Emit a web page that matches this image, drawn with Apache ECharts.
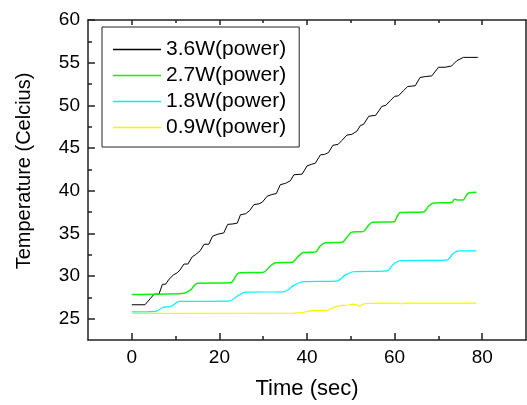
<!DOCTYPE html>
<html>
<head>
<meta charset="utf-8">
<script src="https://cdn.jsdelivr.net/npm/echarts@6/dist/echarts.min.js"></script>
<style>
html,body{margin:0;padding:0;background:#fff;}
#chart{width:527px;height:405px;}
</style>
</head>
<body>
<div id="chart"></div>
<script>
// ---- data ----
const seriesNames = ['3.6W(power)', '2.7W(power)', '1.8W(power)', '0.9W(power)'];

const time36 = [0, 3.0, 4.3, 5.1, 6.2, 7.0, 7.7, 8.5, 9.5, 10.4, 11.0, 11.9, 12.8, 13.8, 14.6, 15.6, 16.5, 17.6, 18.4, 19.5, 21.0, 21.9, 23.1, 24.1, 24.8, 26.0, 26.9, 27.9, 29.0, 29.8, 30.9, 32.0, 33.0, 33.9, 35.1, 36.2, 37.0, 38.9, 40.0, 41.1, 41.9, 43.05, 44.0, 44.9, 45.9, 47.1, 48.0, 49.1, 50.25, 51.4, 52.2, 52.9, 54.1, 55.7, 57.1, 58.0, 59.0, 60.0, 60.9, 62.0, 63.0, 64.7, 65.8, 67.0, 68.5, 70.0, 71.5, 73.0, 74.2, 75.7, 79.0];
const temp36 = [26.63, 26.63, 27.4, 27.87, 27.87, 29.03, 29.03, 29.62, 30.12, 30.39, 30.70, 31.40, 31.40, 32.25, 32.52, 32.95, 33.72, 33.72, 34.65, 34.88, 35.05, 36.05, 36.1, 36.2, 37.17, 37.3, 37.67, 38.37, 38.45, 38.65, 39.35, 39.55, 39.66, 40.7, 40.86, 41.16, 41.86, 41.94, 42.9, 43.1, 43.22, 44.19, 44.25, 44.46, 45.31, 45.43, 45.9, 46.51, 46.6, 46.98, 47.64, 47.76, 48.72, 48.84, 49.88, 50.0, 50.55, 51.05, 51.12, 51.71, 52.21, 52.29, 53.26, 53.37, 53.45, 54.46, 54.46, 54.61, 55.23, 55.62, 55.62];

const time27 = [0, 11.5, 12.5, 13.5, 14.3, 15.0, 22.5, 23.2, 24.4, 30.1, 31.5, 32.8, 36.6, 38.0, 39.2, 41.9, 43.0, 44.2, 48.0, 49.2, 50.3, 52.8, 54.0, 55.0, 59.9, 60.6, 61.3, 66.6, 67.8, 68.9, 73.0, 73.7, 74.5, 75.6, 76.8, 78.7];
const temp27 = [27.82, 27.95, 28.1, 28.4, 28.9, 29.15, 29.2, 29.5, 30.35, 30.45, 31.1, 31.55, 31.6, 32.3, 32.75, 32.8, 33.5, 33.9, 33.95, 34.6, 35.15, 35.2, 35.9, 36.3, 36.35, 37.0, 37.45, 37.5, 38.2, 38.55, 38.6, 39.0, 38.9, 38.9, 39.7, 39.8];

const time18 = [0, 5.5, 7.3, 8.8, 10.8, 22.2, 24.0, 26.0, 34.7, 37.0, 39.2, 46.8, 48.7, 50.6, 58.2, 59.8, 61.3, 71.9, 73.3, 74.6, 78.7];
const temp18 = [25.8, 25.86, 26.36, 26.4, 27.02, 27.05, 27.6, 28.1, 28.15, 28.9, 29.35, 29.4, 30.1, 30.5, 30.6, 31.4, 31.8, 31.85, 32.6, 32.95, 32.95];

const time09 = [0, 37.0, 39.0, 40.2, 41.5, 44.5, 45.6, 46.8, 48.0, 49.5, 50.6, 51.3, 51.8, 53.0, 56.4, 61.0, 61.7, 62.5, 78.7];
const temp09 = [25.62, 25.64, 25.72, 25.85, 25.98, 25.95, 26.2, 26.44, 26.56, 26.6, 26.7, 26.62, 26.46, 26.75, 26.83, 26.83, 26.72, 26.83, 26.83];

const xMajorTicks = [0, 20, 40, 60, 80];
const xMinorTicks = [10, 30, 50, 70];
const yMajorTicks = [25, 30, 35, 40, 45, 50, 55, 60];
const yMinorTicks = [27.5, 32.5, 37.5, 42.5, 47.5, 52.5, 57.5];

// ---- chart ----
const FONT = 'Liberation Sans, Arial, sans-serif';
const AX = '#222';
const axLine = { show: true, onZero: false, lineStyle: { color: AX, width: 1.5 } };
const noLine = { show: false, onZero: false };
const colors = ['#000000', '#11ee11', '#00f0ff', '#f5f500'];
const widths = [1, 1.5, 1.2, 1.2];

function pairs(ts, vs) { return ts.map((t, i) => [t, vs[i]]); }

const chart = echarts.init(document.getElementById('chart'), null, { renderer: 'canvas' });

const xBase = { type: 'value', min: -10, max: 90, splitLine: { show: false } };
const yBase = { type: 'value', min: 22.5, max: 60, splitLine: { show: false } };

chart.setOption({
  animation: false,
  backgroundColor: '#fff',
  grid: { left: 88, right: 1, top: 20, bottom: 63, containLabel: false },
  legend: {
    data: seriesNames.map((n, i) => ({ name: n, icon: 'rect', itemStyle: { color: colors[i], borderWidth: 0 } })),
    orient: 'vertical',
    left: 102,
    top: 27,
    width: 180,
    padding: [12, 13, 9, 11],
    itemWidth: 48,
    itemHeight: 1.5,
    itemGap: 5,
    borderColor: AX,
    borderWidth: 1,
    backgroundColor: '#fff',
    textStyle: { fontFamily: FONT, fontSize: 21, color: '#000', lineHeight: 21 }
  },
  xAxis: [
    Object.assign({}, xBase, {
      position: 'bottom',
      axisLine: axLine,
      axisTick: { show: true, inside: true, length: 7, customValues: xMajorTicks, lineStyle: { color: AX, width: 1.5 } },
      axisLabel: { show: true, customValues: xMajorTicks, fontFamily: FONT, fontSize: 19, color: '#000', margin: 8 },
      name: 'Time (sec)',
      nameLocation: 'middle',
      nameGap: 38,
      nameTextStyle: { fontFamily: FONT, fontSize: 22, color: '#000' }
    }),
    Object.assign({}, xBase, {
      position: 'bottom',
      axisLine: noLine,
      axisTick: { show: true, inside: true, length: 4, customValues: xMinorTicks, lineStyle: { color: AX, width: 1.5 } },
      axisLabel: { show: false }
    }),
    Object.assign({}, xBase, {
      position: 'top',
      axisLine: axLine,
      axisTick: { show: true, inside: true, length: 5, customValues: xMajorTicks, lineStyle: { color: AX, width: 1.5 } },
      axisLabel: { show: false }
    }),
    Object.assign({}, xBase, {
      position: 'top',
      axisLine: noLine,
      axisTick: { show: true, inside: true, length: 3, customValues: xMinorTicks, lineStyle: { color: AX, width: 1.5 } },
      axisLabel: { show: false }
    })
  ],
  yAxis: [
    Object.assign({}, yBase, {
      position: 'left',
      axisLine: axLine,
      axisTick: { show: true, inside: true, length: 7, customValues: yMajorTicks, lineStyle: { color: AX, width: 1.5 } },
      axisLabel: { show: true, customValues: yMajorTicks, fontFamily: FONT, fontSize: 19, color: '#000', margin: 8 },
      name: 'Temperature (Celcius)',
      nameLocation: 'middle',
      nameGap: 54,
      nameTextStyle: { fontFamily: FONT, fontSize: 20, color: '#000', padding: [0, 0, 0, 18] }
    }),
    Object.assign({}, yBase, {
      position: 'left',
      axisLine: noLine,
      axisTick: { show: true, inside: true, length: 4, customValues: yMinorTicks, lineStyle: { color: AX, width: 1.5 } },
      axisLabel: { show: false }
    }),
    Object.assign({}, yBase, {
      position: 'right',
      axisLine: axLine,
      axisTick: { show: false },
      axisLabel: { show: false }
    })
  ],
  series: [
    { name: seriesNames[0], type: 'line', data: pairs(time36, temp36), symbol: 'none', lineStyle: { color: colors[0], width: widths[0] }, itemStyle: { color: colors[0] } },
    { name: seriesNames[1], type: 'line', data: pairs(time27, temp27), symbol: 'none', smooth: 0.3, lineStyle: { color: colors[1], width: widths[1] }, itemStyle: { color: colors[1] } },
    { name: seriesNames[2], type: 'line', data: pairs(time18, temp18), symbol: 'none', smooth: 0.3, lineStyle: { color: colors[2], width: widths[2] }, itemStyle: { color: colors[2] } },
    { name: seriesNames[3], type: 'line', data: pairs(time09, temp09), symbol: 'none', lineStyle: { color: colors[3], width: widths[3] }, itemStyle: { color: colors[3] } }
  ]
});
</script>
</body>
</html>
